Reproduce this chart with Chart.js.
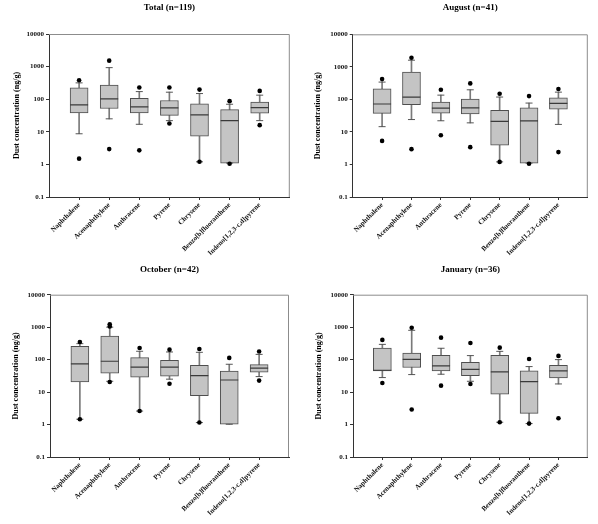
<!DOCTYPE html>
<html>
<head>
<meta charset="utf-8">
<script src="https://cdn.jsdelivr.net/npm/chart.js@4.4.0/dist/chart.umd.min.js"></script>
<style>
  html, body { margin: 0; padding: 0; background: #fff; }
  .panel { position: absolute; }
</style>
</head>
<body>
<div class="panel" style="left:0;top:0;width:300px;height:262px"><canvas id="c1"></canvas></div>
<div class="panel" style="left:300px;top:0;width:298px;height:262px"><canvas id="c2"></canvas></div>
<div class="panel" style="left:0;top:262px;width:300px;height:262px"><canvas id="c3"></canvas></div>
<div class="panel" style="left:300px;top:262px;width:298px;height:262px"><canvas id="c4"></canvas></div>
<script>
// compounds on the x axis
const compounds = ['Naphthalene', 'Acenaphthylene', 'Anthracene', 'Pyrene', 'Chrysene',
  'Benzo[b]fluoranthene', 'Indeno[1,2,3-c,d]pyrene'];
const yTicks = [0.1, 1, 10, 100, 1000, 10000];

// Total (n=119)
const totalMin = [8.7, 25, 17, 22, 1.2, 1.1, 22];
const totalQ1 = [38, 52, 38, 32, 7.4, 1.1, 37];
const totalMed = [67, 102, 58, 54, 33, 22, 55];
const totalQ3 = [222, 270, 107, 91, 72, 48, 81];
const totalMax = [317, 930, 171, 164, 149, 70, 133];
const totalOutHi = [380, 1520, 228, 228, 197, 87, 180];
const totalOutLo = [1.5, 2.95, 2.7, 18, 1.2, 1.05, 16];

// August (n=41)
const augMin = [14.5, 24, 22, 19, 1.2, 1.1, 17];
const augQ1 = [37, 69, 38, 36, 3.9, 1.1, 50];
const augMed = [72, 117, 54, 55, 21, 22, 75];
const augQ3 = [212, 690, 83, 102, 46, 55, 112];
const augMax = [340, 1600, 135, 197, 118, 77, 167];
const augOutHi = [420, 1900, 197, 310, 149, 126, 208];
const augOutLo = [5.3, 2.95, 7.9, 3.4, 1.2, 1.05, 2.4];

// October (n=42)
const octMin = [1.46, 21.5, 2.6, 25, 1.15, 1.02, 30];
const octQ1 = [20.5, 38, 29, 31, 7.8, 1.02, 41];
const octMed = [74, 89, 59, 59, 32, 23.6, 55];
const octQ3 = [257, 535, 115, 95, 67, 44, 70];
const octMax = [310, 1000, 181, 172, 168, 72, 145];
const octOutHi = [350, 1230, 228, 203, 213, 113, 177];
const octOutHi2 = [null, 1050, null, null, null, null, null];
const octOutLo = [1.45, 20.5, 2.6, 18, 1.15, null, 22.6];

// January (n=36)
const janMin = [28, 34.6, 35.5, 21.5, 1.18, 1.07, 17.8];
const janQ1 = [45, 57, 45, 32, 8.6, 2.2, 27.3];
const janMed = [47, 102, 64, 50, 42, 21, 45];
const janQ3 = [228, 160, 136, 83, 136, 45, 67];
const janMax = [295, 800, 224, 133, 180, 61, 100];
const janOutHi = [405, 960, 475, 326, 234, 105, 130];
const janOutLo = [19, 2.9, 15.8, 17.8, 1.18, 1.07, 1.57];

Chart.defaults.font.family = "'Liberation Serif', 'DejaVu Serif', serif";
Chart.defaults.color = '#111';

// top and right edges of the plot frame
const framePlugin = {
  id: 'frame',
  beforeDatasetsDraw(chart) {
    const a = chart.chartArea;
    const ctx = chart.ctx;
    ctx.save();
    ctx.strokeStyle = '#8c8c8c';
    ctx.lineWidth = 1;
    ctx.beginPath();
    ctx.moveTo(a.left, a.top + 0.5);
    ctx.lineTo(a.right - 0.5, a.top + 0.5);
    ctx.lineTo(a.right - 0.5, a.bottom);
    ctx.stroke();
    ctx.restore();
  }
};

function pts(arr) {
  const out = [];
  arr.forEach((v, i) => { if (v != null) out.push({ x: i + 1, y: v }); });
  return out;
}

function makeChart(id, title, s, g) {
  const datasets = [
    { type: 'bar', data: s.min.map((v, i) => ({ x: i + 1, y: [v, s.max[i]] })),
      barThickness: 1, backgroundColor: '#7a7a7a', borderWidth: 0, grouped: false, order: 5 },
    { type: 'bar', data: s.q1.map((v, i) => ({ x: i + 1, y: [v, s.q3[i]] })),
      barThickness: 18, backgroundColor: '#c4c4c4', borderColor: '#4e4e4e', borderWidth: 1,
      borderSkipped: false, grouped: false, order: 4 },
    { type: 'scatter', data: pts(s.med), pointStyle: 'line', pointRadius: 9,
      borderColor: '#3a3a3a', borderWidth: 1.2, order: 3 },
    { type: 'scatter', data: pts(s.min).concat(pts(s.max)), pointStyle: 'line', pointRadius: 3.5,
      borderColor: '#555', borderWidth: 1, order: 2 },
    { type: 'scatter', data: s.out.reduce((acc, a) => acc.concat(pts(a)), []), pointStyle: 'circle',
      pointRadius: 2.3, backgroundColor: '#000', borderWidth: 0, order: 1 }
  ];

  return new Chart(document.getElementById(id), {
    type: 'bar',
    data: { datasets: datasets },
    options: {
      responsive: true,
      maintainAspectRatio: false,
      animation: false,
      layout: { padding: { left: 0, top: 0, bottom: 0, right: g.right } },
      plugins: {
        legend: { display: false },
        tooltip: { enabled: false },
        title: {
          display: true, text: title, fullSize: false, color: '#000',
          font: { size: 9, weight: 'bold' },
          padding: { top: 2, bottom: g.top - 12.8 }
        }
      },
      scales: {
        x: {
          type: 'linear', min: 0, max: 8, offset: false,
          afterBuildTicks: sc => { sc.ticks = compounds.map((c, i) => ({ value: i + 1 })); },
          afterFit: sc => { sc.height = g.xh; },
          grid: { drawOnChartArea: false, offset: false, tickLength: 3, color: '#333' },
          border: { color: '#333' },
          ticks: {
            autoSkip: false, minRotation: 45, maxRotation: 45, padding: 1,
            font: { size: 7, weight: 'bold' },
            callback: v => compounds[v - 1] || ''
          }
        },
        y: {
          type: 'logarithmic', min: 0.1, max: 10000,
          afterBuildTicks: sc => { sc.ticks = yTicks.map(v => ({ value: v })); },
          afterFit: sc => { sc.width = g.left; },
          grid: { drawOnChartArea: false, tickLength: 3, color: '#333' },
          border: { color: '#333' },
          ticks: { padding: 2, font: { size: 7, weight: 'bold' }, callback: v => String(v) },
          title: {
            display: true, text: 'Dust concentration (ng/g)', color: '#000',
            font: { size: 8, weight: 'bold' }, padding: { top: g.ytp, bottom: 0 }
          }
        }
      }
    },
    plugins: [framePlugin]
  });
}

makeChart('c1', 'Total (n=119)',
  { min: totalMin, q1: totalQ1, med: totalMed, q3: totalQ3, max: totalMax, out: [totalOutHi, totalOutLo] },
  { left: 49, right: 10, top: 34, xh: 65, ytp: 11.7 });
makeChart('c2', 'August (n=41)',
  { min: augMin, q1: augQ1, med: augMed, q3: augQ3, max: augMax, out: [augOutHi, augOutLo] },
  { left: 52.7, right: 5, top: 34.3, xh: 65, ytp: 13.5 });
makeChart('c3', 'October (n=42)',
  { min: octMin, q1: octQ1, med: octMed, q3: octQ3, max: octMax, out: [octOutHi, octOutHi2, octOutLo] },
  { left: 50, right: 11, top: 32.7, xh: 67, ytp: 11.2 });
makeChart('c4', 'January (n=36)',
  { min: janMin, q1: janQ1, med: janMed, q3: janQ3, max: janMax, out: [janOutHi, janOutLo] },
  { left: 53, right: 3.3, top: 32.7, xh: 67, ytp: 14 });
</script>
</body>
</html>
